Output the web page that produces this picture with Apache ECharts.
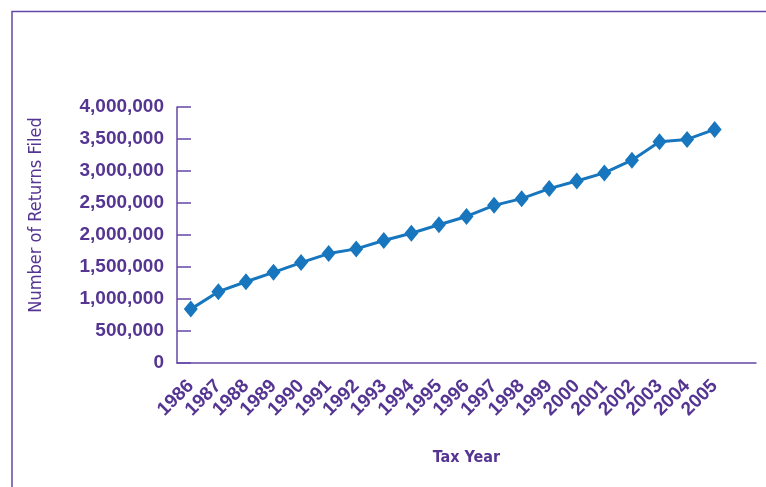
<!DOCTYPE html>
<html>
<head>
<meta charset="utf-8">
<script src="https://cdn.jsdelivr.net/npm/echarts@6/dist/echarts.min.js"></script>
<style>
  html, body { margin: 0; padding: 0; background: #fff; }
  #chart { width: 766px; height: 487px; }
</style>
</head>
<body>
<div id="chart"></div>
<script>
// tax years, last slot left empty like the original
const years = ['1986', '1987', '1988', '1989', '1990', '1991', '1992', '1993', '1994', '1995',
  '1996', '1997', '1998', '1999', '2000', '2001', '2002', '2003', '2004', '2005', ''];
const returnsFiled = [842000, 1114000, 1270000, 1417000, 1569000, 1710000, 1783000, 1914000, 2028000, 2160000,
  2290000, 2463000, 2568000, 2725000, 2844000, 2970000, 3169000, 3456000, 3493000, 3650000];

const purple = '#553592';
const axisPurple = '#6448a8';
const narrow = '"DejaVu Sans Condensed", "Liberation Sans Narrow", sans-serif';

const chart = echarts.init(document.getElementById('chart'));
const option = {
  animation: false,
  backgroundColor: '#fff',
  graphic: [{
    type: 'rect',
    shape: { x: 12, y: 11.5, width: 900, height: 700 },
    style: { fill: 'none', stroke: axisPurple, lineWidth: 1.5 },
    silent: true
  }],
  grid: { left: 177, right: 10, top: 107, bottom: 124 },
  xAxis: {
    type: 'category',
    data: years,
    boundaryGap: true,
    name: 'Tax Year',
    nameLocation: 'middle',
    nameGap: 87,
    nameTextStyle: { color: purple, fontFamily: narrow, fontWeight: 'bold', fontSize: 16 },
    axisLine: { lineStyle: { color: axisPurple, width: 1.5 } },
    axisTick: { length: 13, lineStyle: { color: axisPurple, width: 1.5 } },
    axisLabel: {
      interval: 0,
      rotate: 45,
      margin: 20,
      color: purple,
      fontFamily: 'Liberation Sans',
      fontWeight: 'bold',
      fontSize: 19
    }
  },
  yAxis: {
    type: 'value',
    min: 0,
    max: 4000000,
    interval: 500000,
    name: 'Number of Returns Filed',
    nameLocation: 'middle',
    nameGap: 132,
    nameTextStyle: { color: purple, fontFamily: narrow, fontSize: 18, padding: [0, 0, 0, 40] },
    splitLine: { show: false },
    axisLine: { show: true, lineStyle: { color: axisPurple, width: 1.5 } },
    axisTick: { show: true, inside: true, length: 14, lineStyle: { color: axisPurple, width: 1.5 } },
    axisLabel: {
      margin: 13,
      color: purple,
      fontFamily: 'Liberation Sans',
      fontWeight: 'bold',
      fontSize: 19,
      formatter: v => v.toLocaleString('en-US')
    }
  },
  series: [{
    type: 'line',
    data: returnsFiled,
    symbol: 'diamond',
    symbolSize: [14, 17],
    lineStyle: { color: '#1776bd', width: 3 },
    itemStyle: { color: '#1776bd' }
  }]
};
chart.setOption(option);
</script>
</body>
</html>
